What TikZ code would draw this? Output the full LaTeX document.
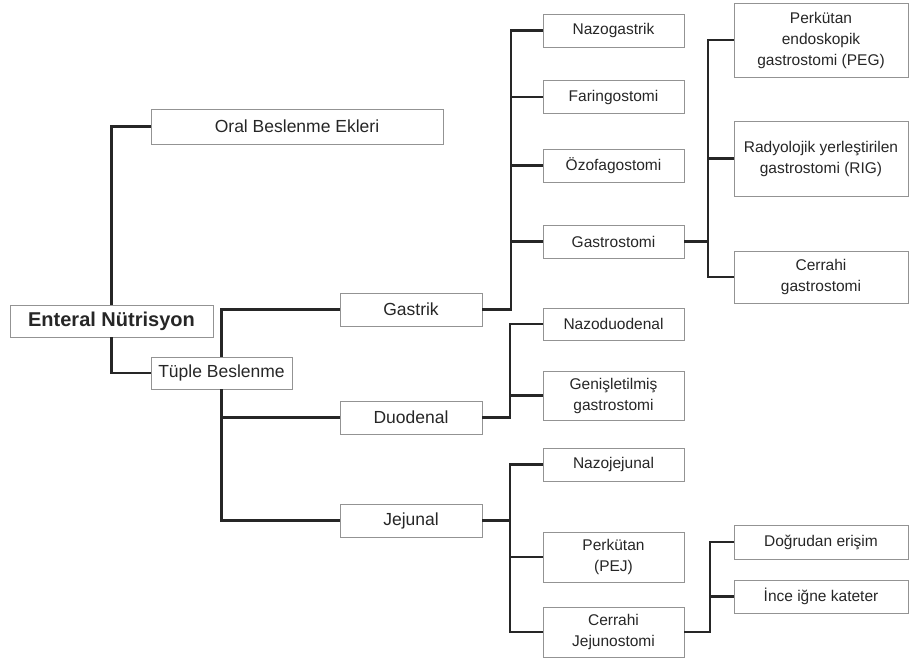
\documentclass[tikz,border=0pt]{standalone}
\usepackage{fontspec}
\setmainfont{Liberation Sans}
\usepackage{tikz}

\begin{document}
\begin{tikzpicture}[x=1pt, y=-1pt,
  box/.style={draw=gray!85, line width=0.9pt, inner sep=0pt, align=center,
    text=black!85, font=\fontsize{17.5}{21}\selectfont},
  mid/.style={box, minimum width=142pt, minimum height=33pt},
  leaf/.style={box, font=\fontsize{15.5}{21}\selectfont, minimum width=141pt},
  far/.style={box, font=\fontsize{15.5}{21}\selectfont, minimum width=174pt},
  link/.style={line width=2.8pt, black!85}]
\useasboundingbox (0,0) rectangle (909,660);

% Root and first level
\node[box, minimum width=203pt, minimum height=32pt, font=\fontsize{20}{24}\selectfont\bfseries] (enteral) at (111.5,321) {Enteral Nütrisyon};
\node[box, minimum width=292pt, minimum height=35pt] (oral) at (297,126.5) {Oral Beslenme Ekleri};
\node[box, minimum width=141pt, minimum height=32pt] (tuple) at (221.5,373) {Tüple Beslenme};

\draw[link] (enteral.north) |- (oral.west);
\draw[link] (enteral.south) |- (tuple.west);

% Second level
\node[mid] (gastrik) at (411,309.5) {Gastrik};
\node[mid] (duodenal) at (411,417.5) {Duodenal};
\node[mid] (jejunal) at (411,520.5) {Jejunal};

\draw[link] (gastrik.west) -| (tuple.north);
\draw[link] (tuple.south) |- (duodenal.west);
\draw[link] (tuple.south) |- (jejunal.west);

% Gastric routes
\node[leaf, minimum height=33pt] (nazogastrik) at (613.5,30.5) {Nazogastrik};
\node[leaf, minimum height=33pt] (faringostomi) at (613.5,97) {Faringostomi};
\node[leaf, minimum height=33pt] (ozofagostomi) at (613.5,165.5) {Özofagostomi};
\node[leaf, minimum height=33pt] (gastrostomi) at (613.5,241.5) {Gastrostomi};

\coordinate (gj) at (511,309.5);
\draw[link] (gastrik.east) -- (gj) |- (nazogastrik.west);
\draw[link] (gj) |- (faringostomi.west);
\draw[link] (gj) |- (ozofagostomi.west);
\draw[link] (gj) |- (gastrostomi.west);

% Gastrostomy types
\node[far, minimum height=74pt] (peg) at (821,40) {Perkütan\\endoskopik\\gastrostomi (PEG)};
\node[far, minimum height=75pt] (rig) at (821,158.5) {Radyolojik yerleştirilen\\gastrostomi (RIG)};
\node[far, minimum height=52pt] (cerrahig) at (821,277) {Cerrahi\\gastrostomi};

\coordinate (gsj) at (708,241.5);
\draw[link] (gastrostomi.east) -- (gsj) |- (peg.west);
\draw[link] (gsj) |- (rig.west);
\draw[link] (gsj) |- (cerrahig.west);

% Duodenal routes
\node[leaf, minimum height=32pt] (nazoduodenal) at (613.5,324) {Nazoduodenal};
\node[leaf, minimum height=49pt] (genis) at (613.5,395.5) {Genişletilmiş\\gastrostomi};

\coordinate (dj) at (510,417.5);
\draw[link] (duodenal.east) -- (dj) |- (nazoduodenal.west);
\draw[link] (dj) |- (genis.west);

% Jejunal routes
\node[leaf, minimum height=33pt] (nazojejunal) at (613.5,464.5) {Nazojejunal};
\node[leaf, minimum height=50pt] (pej) at (613.5,557) {Perkütan\\(PEJ)};
\node[leaf, minimum height=50pt] (cerrahij) at (613.5,632) {Cerrahi\\Jejunostomi};

\coordinate (jj) at (510,520.5);
\draw[link] (jejunal.east) -- (jj) |- (nazojejunal.west);
\draw[link] (jj) |- (pej.west);
\draw[link] (jj) |- (cerrahij.west);

% Surgical jejunostomy types
\node[far, minimum height=34pt] (dogrudan) at (821,542) {Doğrudan erişim};
\node[far, minimum height=33pt] (ince) at (821,596.5) {İnce iğne kateter};

\coordinate (cj) at (710,632);
\draw[link] (cerrahij.east) -- (cj) |- (dogrudan.west);
\draw[link] (cj) |- (ince.west);

\end{tikzpicture}
\end{document}
